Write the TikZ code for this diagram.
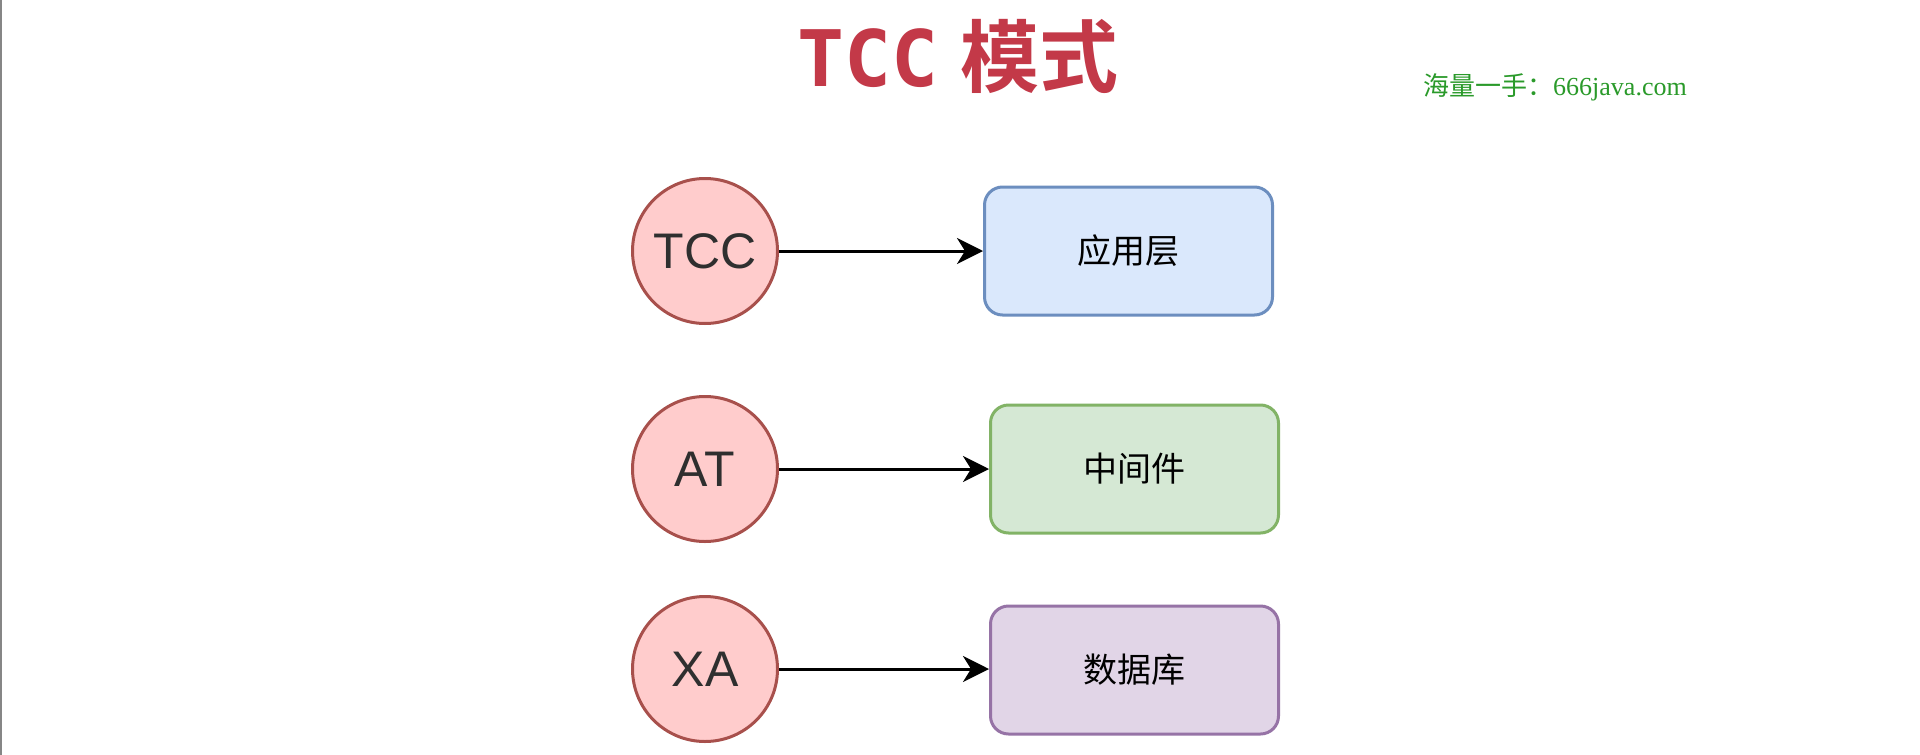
\documentclass[tikz,border=0pt]{standalone}
\usepackage{fontspec}
\setmainfont{Liberation Sans}
\newfontfamily\cjk{Noto Sans CJK SC}[BoldFont={Noto Sans CJK SC Bold}]
\newfontfamily\tmono{DejaVu Sans Mono}
\newfontfamily\wserif{Liberation Serif}
\usetikzlibrary{arrows.meta}
\definecolor{titlered}{RGB}{195,57,72}
\definecolor{wgreen}{RGB}{42,154,42}
\definecolor{circfill}{HTML}{FFCCCC}
\definecolor{circdraw}{HTML}{A8504C}
\definecolor{bluefill}{HTML}{DAE8FC}
\definecolor{bluedraw}{HTML}{6C8EBF}
\definecolor{greenfill}{HTML}{D5E8D4}
\definecolor{greendraw}{HTML}{82B366}
\definecolor{purpfill}{HTML}{E1D5E7}
\definecolor{purpdraw}{HTML}{9673A6}
\definecolor{txtdark}{HTML}{2F2F2F}
\tikzset{
  kind/.style={circle, draw=circdraw, fill=circfill, line width=3pt,
    minimum size=145pt, inner sep=0pt, text=txtdark,
    font=\fontsize{50}{56}\selectfont},
  layerbox/.style={rectangle, rounded corners=18pt, line width=3pt,
    minimum width=288pt, minimum height=128pt, inner sep=0pt,
    font=\cjk\fontsize{34}{38}\selectfont, text=black},
  conn/.style={line width=3pt, black, -{Stealth[length=26pt,width=26pt,inset=8pt]}}
}
\begin{document}
\begin{tikzpicture}[x=1pt,y=-1pt]
\useasboundingbox (0,0) rectangle (1920,755);
\fill[white] (0,0) rectangle (1920,755);
\fill[gray!95] (0,0) rectangle (2.2,755);
\node[anchor=base, text=titlered, inner sep=0pt] (title) at (958,86)
  {{\tmono\bfseries\fontsize{78}{80}\selectfont TCC}\hspace{22pt}{\cjk\bfseries\fontsize{79}{82}\selectfont 模式}};
\node[anchor=base west, text=wgreen, inner sep=0pt] (wm) at (1423,95)
  {\fontsize{26}{30}\selectfont{\cjk 海量一手：}{\wserif 666java.com}};
\node[kind] (c1) at (705,251) {TCC};
\node[kind] (c2) at (705,469) {AT};
\node[kind] (c3) at (705,669) {XA};
\node[layerbox, draw=bluedraw, fill=bluefill] (b1) at (1128.5,251) {应用层};
\node[layerbox, draw=greendraw, fill=greenfill] (b2) at (1134.5,469) {中间件};
\node[layerbox, draw=purpdraw, fill=purpfill] (b3) at (1134.5,670) {数据库};
\draw[conn] (c1.east) -- (c1.east -| b1.west);
\draw[conn] (c2.east) -- (c2.east -| b2.west);
\draw[conn] (c3.east) -- (c3.east -| b3.west);
\end{tikzpicture}
\end{document}
